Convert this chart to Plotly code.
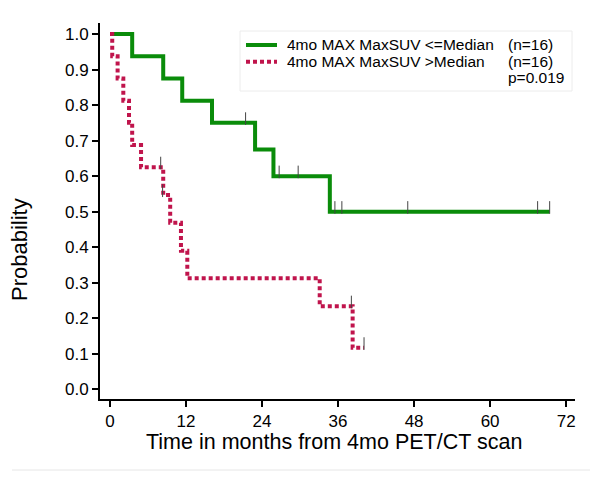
import plotly.graph_objects as go

# ---- data ----
low_times = [0, 3.5, 8.4, 11.4, 16.1, 22.9, 25.8, 34.7, 69.4]
low_surv = [1.0, 0.9375, 0.875, 0.8125, 0.75, 0.675, 0.60, 0.50, 0.50]
low_cens_t = [21.4, 26.7, 29.7, 35.5, 36.6, 47.0, 67.5, 69.4]
low_cens_s = [0.75, 0.60, 0.60, 0.50, 0.50, 0.50, 0.50, 0.50]

high_times = [0, 0.35, 1.2, 2.1, 3.0, 3.5, 4.9, 8.4, 9.5, 11.2, 12.2, 33.1, 38.3, 40.1]
high_surv = [1.0, 0.9375, 0.875, 0.8125, 0.75, 0.6875, 0.625, 0.547, 0.469, 0.39, 0.3125, 0.234, 0.117, 0.117]
high_cens_t = [8.0, 8.3, 38.1, 40.1]
high_cens_s = [0.625, 0.547, 0.234, 0.117]

x_ticks = [0, 12, 24, 36, 48, 60, 72]
y_ticks = [0.0, 0.1, 0.2, 0.3, 0.4, 0.5, 0.6, 0.7, 0.8, 0.9, 1.0]

series_names = ["4mo MAX MaxSUV <=Median", "4mo MAX MaxSUV >Median"]
n_labels = ["(n=16)", "(n=16)"]
p_label = "p=0.019"
x_title = "Time in months from 4mo PET/CT scan"
y_title = "Probability"

GREEN = "#0a8c0a"
RED = "#c0144c"
FONT = "Liberation Sans, Arial, sans-serif"

# page body has an 8px margin; figure laid out so the plot lands where the reference has it
W, H = 596, 474
L, R, T, B = 92, 29, 15, 83
PW, PH = W - L - R, H - T - B
OFF = 8


def px(xw):
    return (xw - OFF - L) / PW


def py(yw):
    return (H - B + OFF - yw) / PH


fig = go.Figure()

fig.add_trace(go.Scatter(x=low_times, y=low_surv, mode="lines", line_shape="hv",
                         line=dict(color=GREEN, width=4), name=series_names[0], showlegend=False))
fig.add_trace(go.Scatter(x=high_times, y=high_surv, mode="lines", line_shape="hv",
                         line=dict(color=RED, width=4, dash="4px,3px"), name=series_names[1],
                         showlegend=False))

tick_off = 0.012
for ct, cs in ((low_cens_t, low_cens_s), (high_cens_t, high_cens_s)):
    fig.add_trace(go.Scatter(x=ct, y=[s + tick_off for s in cs], mode="markers",
                             marker=dict(symbol="line-ns-open", size=9, color="#444444",
                                         line=dict(color="#444444", width=1)),
                             showlegend=False, hoverinfo="skip"))

# legend box (faint)
fig.add_shape(type="rect", xref="paper", yref="paper",
              x0=px(240), x1=px(572), y0=py(91), y1=py(31),
              line=dict(color="#ececec", width=1), fillcolor="rgba(0,0,0,0)", layer="below")

# legend samples
fig.add_shape(type="line", xref="paper", yref="paper", x0=px(246), x1=px(277), y0=py(45), y1=py(45),
              line=dict(color=GREEN, width=4))
fig.add_shape(type="line", xref="paper", yref="paper", x0=px(246), x1=px(277), y0=py(61.7), y1=py(61.7),
              line=dict(color=RED, width=4, dash="4px,3px"))

for lab, yw in zip(series_names, (45, 61.7)):
    fig.add_annotation(text=lab, xref="paper", yref="paper", x=px(285), y=py(yw),
                       xanchor="left", yanchor="middle", showarrow=False,
                       font=dict(family=FONT, size=15.5, color="#000000"))
for lab, yw in zip(n_labels + [p_label], (45, 61.7, 77.5)):
    fig.add_annotation(text=lab, xref="paper", yref="paper", x=px(506), y=py(yw),
                       xanchor="left", yanchor="middle", showarrow=False,
                       font=dict(family=FONT, size=15.5, color="#000000"))

# axis titles
fig.add_annotation(text=x_title, xref="paper", yref="paper", x=px(334), y=py(442),
                   xanchor="center", yanchor="middle", showarrow=False,
                   font=dict(family=FONT, size=21.5, color="#000000"))
fig.add_annotation(text=y_title, xref="paper", yref="paper", x=px(19), y=py(250),
                   xanchor="center", yanchor="middle", showarrow=False, textangle=-90,
                   font=dict(family=FONT, size=22, color="#000000"))

# faint bottom line
fig.add_shape(type="line", xref="paper", yref="paper",
              x0=px(12), x1=px(590), y0=py(470), y1=py(470),
              line=dict(color="#e6e6e6", width=1))

fig.update_layout(
    width=W, height=H,
    margin=dict(l=L, r=R, t=T, b=B),
    paper_bgcolor="white", plot_bgcolor="white",
    font=dict(family=FONT, color="#000000"),
    showlegend=False,
)

fig.update_xaxes(range=[-1.58, 73.4], tickvals=x_ticks, ticktext=[str(v) for v in x_ticks],
                 showgrid=False, zeroline=False, showline=True, linecolor="#000000", linewidth=2,
                 ticks="outside", ticklen=6, tickwidth=1.5, tickcolor="#000000",
                 tickfont=dict(family=FONT, size=17, color="#000000"))
fig.update_yaxes(range=[-0.027, 1.031], tickvals=y_ticks, ticktext=[f"{v:.1f}" for v in y_ticks],
                 showgrid=False, zeroline=False, showline=True, linecolor="#000000", linewidth=2,
                 ticks="outside", ticklen=6, tickwidth=1.5, tickcolor="#000000",
                 tickfont=dict(family=FONT, size=17, color="#000000"))

fig.write_html("out.html")
